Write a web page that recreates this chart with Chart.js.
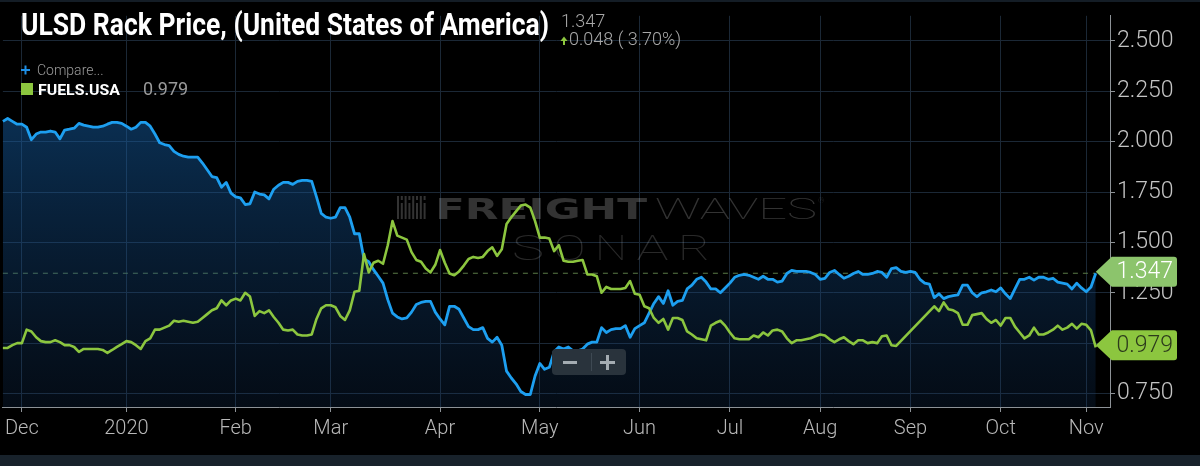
<!DOCTYPE html>
<html>
<head>
<meta charset="utf-8">
<title>ULSD Rack Price</title>
<style>
  html, body { margin: 0; padding: 0; background: #000; }
  #wrap { width: 1200px; height: 466px; position: relative; }
</style>
<script src="https://cdn.jsdelivr.net/npm/chart.js@4.4.0/dist/chart.umd.min.js"></script>
</head>
<body>
<div id="wrap"><canvas id="fuelChart" width="1200" height="466"></canvas></div>
<script>
// trading days per month shown on the axis (first and last month are partial)
const monthNames = ['Nov', 'Dec', '2020', 'Feb', 'Mar', 'Apr', 'May', 'Jun', 'Jul', 'Aug', 'Sep', 'Oct', 'Nov'];
const pointsPerMonth = [4, 22, 23, 20, 23, 21, 21, 19, 19, 19, 19, 18, 3];
const yTicks = [0.75, 1.0, 1.25, 1.5, 1.75, 2.0, 2.25, 2.5];

// ULSD Rack Price (blue)
const ulsdRack = [
  2.101, 2.115, 2.101, 2.087, 2.087, 2.072, 2.010, 2.038, 2.048, 2.048,
  2.053, 2.048, 2.014, 2.058, 2.062, 2.067, 2.091, 2.082, 2.077, 2.072,
  2.072, 2.077, 2.087, 2.096, 2.096, 2.091, 2.077, 2.062, 2.072, 2.096,
  2.096, 2.077, 2.038, 1.995, 1.986, 1.981, 1.952, 1.937, 1.928, 1.923,
  1.923, 1.923, 1.894, 1.861, 1.827, 1.822, 1.774, 1.798, 1.745, 1.726,
  1.721, 1.688, 1.692, 1.750, 1.740, 1.736, 1.716, 1.764, 1.784, 1.798,
  1.798, 1.788, 1.803, 1.808, 1.808, 1.803, 1.726, 1.644, 1.625, 1.620,
  1.625, 1.673, 1.673, 1.625, 1.543, 1.543, 1.418, 1.404, 1.365, 1.332,
  1.298, 1.216, 1.149, 1.130, 1.120, 1.125, 1.154, 1.192, 1.202, 1.207,
  1.207, 1.154, 1.120, 1.091, 1.183, 1.183, 1.168, 1.125, 1.082, 1.067,
  1.067, 1.077, 1.024, 1.005, 1.029, 0.990, 0.861, 0.827, 0.798, 0.760,
  0.745, 0.745, 0.837, 0.899, 0.870, 0.880, 0.957, 0.981, 0.971, 0.981,
  0.962, 0.962, 0.971, 0.995, 1.005, 1.005, 1.077, 1.053, 1.067, 1.072,
  1.072, 1.087, 1.029, 1.072, 1.087, 1.101, 1.149, 1.197, 1.231, 1.197,
  1.260, 1.188, 1.207, 1.212, 1.269, 1.288, 1.317, 1.327, 1.303, 1.269,
  1.269, 1.250, 1.274, 1.298, 1.327, 1.337, 1.341, 1.337, 1.327, 1.317,
  1.332, 1.317, 1.317, 1.303, 1.308, 1.346, 1.361, 1.356, 1.356, 1.356,
  1.351, 1.341, 1.317, 1.322, 1.351, 1.361, 1.341, 1.322, 1.332, 1.346,
  1.356, 1.341, 1.341, 1.346, 1.356, 1.351, 1.327, 1.370, 1.375, 1.356,
  1.351, 1.356, 1.351, 1.317, 1.298, 1.293, 1.226, 1.245, 1.221, 1.231,
  1.236, 1.240, 1.288, 1.288, 1.250, 1.231, 1.250, 1.255, 1.264, 1.255,
  1.274, 1.245, 1.221, 1.269, 1.317, 1.317, 1.327, 1.313, 1.327, 1.327,
  1.317, 1.322, 1.303, 1.298, 1.293, 1.269, 1.298, 1.274, 1.255, 1.279,
  1.347
];

// FUELS.USA compare series (green), gap in late August
const fuelsUsa = [
  0.976, 0.976, 0.990, 1.000, 1.000, 1.067, 1.058, 1.029, 1.010, 1.005,
  1.005, 1.014, 1.005, 0.990, 0.990, 0.981, 0.957, 0.971, 0.971, 0.971,
  0.971, 0.966, 0.952, 0.966, 0.981, 0.995, 1.010, 1.005, 0.990, 0.971,
  1.010, 1.024, 1.067, 1.067, 1.077, 1.087, 1.111, 1.106, 1.111, 1.106,
  1.101, 1.106, 1.125, 1.144, 1.163, 1.173, 1.212, 1.188, 1.212, 1.221,
  1.212, 1.250, 1.231, 1.135, 1.159, 1.149, 1.163, 1.130, 1.101, 1.067,
  1.063, 1.067, 1.043, 1.038, 1.038, 1.043, 1.120, 1.173, 1.188, 1.188,
  1.178, 1.135, 1.115, 1.163, 1.255, 1.260, 1.442, 1.351, 1.399, 1.409,
  1.394, 1.486, 1.606, 1.534, 1.524, 1.514, 1.452, 1.413, 1.404, 1.370,
  1.351, 1.389, 1.462, 1.399, 1.346, 1.337, 1.356, 1.385, 1.418, 1.428,
  1.423, 1.428, 1.457, 1.476, 1.433, 1.466, 1.591, 1.625, 1.654, 1.683,
  1.688, 1.673, 1.606, 1.524, 1.524, 1.519, 1.457, 1.486, 1.409, 1.404,
  1.404, 1.409, 1.413, 1.341, 1.341, 1.332, 1.250, 1.279, 1.269, 1.269,
  1.269, 1.274, 1.308, 1.245, 1.240, 1.183, 1.173, 1.125, 1.101, 1.120,
  1.067, 1.125, 1.125, 1.115, 1.058, 1.043, 1.024, 1.019, 1.014, 1.087,
  1.101, 1.111, 1.087, 1.053, 1.024, 1.019, 1.019, 1.019, 1.038, 1.029,
  1.053, 1.038, 1.063, 1.067, 1.058, 1.024, 1.000, 1.014, 1.014, 1.019,
  1.024, 1.034, 1.043, 1.038, 1.019, 1.005, 1.019, 1.029, 1.010, 0.995,
  1.014, 1.014, 1.000, 1.005, 1.000, 1.034, 1.038, 0.990, 0.986, null,
  null, null, null, null, null, null, 1.183, 1.159, 1.202, 1.168,
  1.163, 1.149, 1.091, 1.091, 1.139, 1.144, 1.149, 1.120, 1.101, 1.115,
  1.087, 1.125, 1.125, 1.082, 1.053, 1.024, 1.038, 1.077, 1.043, 1.043,
  1.053, 1.067, 1.087, 1.067, 1.077, 1.096, 1.072, 1.096, 1.091, 1.063,
  0.979
];

// build category labels and month-start tick positions
const labels = [];
const monthStarts = [];
monthNames.forEach((name, m) => {
  if (m > 0) monthStarts.push(labels.length);
  for (let k = 0; k < pointsPerMonth[m]; k++) labels.push(name + ' ' + (k + 1));
});
// empty room on the right of the last point
for (let k = 0; k < 3; k++) labels.push('');

const BLUE = '#1d9ff0';
const GREEN = '#8cc63f';

function fitText(ctx, text, x, y, font, color, width) {
  ctx.save();
  ctx.font = font;
  ctx.fillStyle = color;
  const w = ctx.measureText(text).width;
  ctx.translate(x, y);
  ctx.scale(width / w, 1);
  ctx.fillText(text, 0, 0);
  ctx.restore();
}

const backdrop = {
  id: 'backdrop',
  beforeDraw(chart) {
    const ctx = chart.ctx;
    ctx.save();
    ctx.fillStyle = '#000';
    ctx.fillRect(0, 0, chart.width, chart.height);
    ctx.fillStyle = '#141d26';
    ctx.fillRect(0, 0, chart.width, 2);
    ctx.fillStyle = '#18222b';
    ctx.fillRect(0, 455, chart.width, chart.height - 455);
    ctx.restore();
  }
};

const watermark = {
  id: 'watermark',
  beforeDatasetsDraw(chart) {
    const ctx = chart.ctx;
    const col = 'rgba(255,255,255,0.2)';
    ctx.save();
    ctx.textBaseline = 'alphabetic';
    // logo bars
    ctx.fillStyle = col;
    for (let i = 0; i < 8; i++) {
      const bx = 397 + i * 3.8;
      if (i % 2 === 0) {
        ctx.fillRect(bx, 196, 2, 23);
      } else {
        ctx.fillRect(bx, 196, 2, 4);
        ctx.fillRect(bx, 203, 2, 16);
      }
    }
    fitText(ctx, 'FREIGHT', 435, 219, '900 29px "DejaVu Sans"', col, 212);
    fitText(ctx, 'WAVES', 655, 219, '100 29px Roboto', col, 162);
    ctx.font = '100 8px Roboto';
    ctx.fillText('®', 818, 203);
    const sonar = 'SONAR';
    for (let i = 0; i < sonar.length; i++) {
      fitText(ctx, sonar[i], 512 + i * 41.5, 260, '100 35px Roboto', 'rgba(255,255,255,0.16)', 32);
    }
    // dashed line at the last ULSD value
    const y = chart.scales.y.getPixelForValue(ulsdRack[ulsdRack.length - 1]);
    const xEnd = chart.scales.x.getPixelForValue(ulsdRack.length - 1);
    ctx.strokeStyle = '#5a7a48';
    ctx.lineWidth = 1;
    ctx.setLineDash([5, 5]);
    ctx.beginPath();
    ctx.moveTo(chart.chartArea.left, y);
    ctx.lineTo(xEnd, y);
    ctx.stroke();
    ctx.restore();
  }
};

function drawTag(ctx, tipX, yc, text, fill, textColor) {
  const h = 30, r = 3, right = 1177, bodyX = tipX + 16;
  ctx.beginPath();
  ctx.moveTo(tipX, yc);
  ctx.lineTo(bodyX, yc - h / 2);
  ctx.lineTo(right - r, yc - h / 2);
  ctx.quadraticCurveTo(right, yc - h / 2, right, yc - h / 2 + r);
  ctx.lineTo(right, yc + h / 2 - r);
  ctx.quadraticCurveTo(right, yc + h / 2, right - r, yc + h / 2);
  ctx.lineTo(bodyX, yc + h / 2);
  ctx.closePath();
  ctx.fillStyle = fill;
  ctx.fill();
  ctx.fillStyle = textColor;
  ctx.font = '300 23px Roboto';
  ctx.textAlign = 'right';
  ctx.textBaseline = 'middle';
  ctx.fillText(text, 1173, yc + 1);
}

const overlay = {
  id: 'overlay',
  afterDraw(chart) {
    const ctx = chart.ctx;
    ctx.save();
    ctx.textBaseline = 'alphabetic';
    ctx.textAlign = 'left';
    // header
    fitText(ctx, 'ULSD Rack Price, (United States of America)', 21, 35, 'bold 31px Roboto', '#ffffff', 528);
    ctx.font = '300 18px Roboto';
    ctx.fillStyle = '#a8a8a8';
    ctx.fillText('1.347', 561, 27);
    ctx.fillText('0.048 ( 3.70%)', 569, 45);
    ctx.fillStyle = GREEN;
    ctx.beginPath();
    ctx.moveTo(564, 36.5);
    ctx.lineTo(560.5, 41);
    ctx.lineTo(567.5, 41);
    ctx.closePath();
    ctx.fill();
    ctx.fillRect(563, 40, 2, 5);
    // legend
    ctx.fillStyle = '#1e8fe6';
    ctx.fillRect(21, 69, 9, 2);
    ctx.fillRect(24.5, 65.5, 2, 9);
    ctx.font = '300 14px Roboto';
    ctx.fillStyle = '#9a9a9a';
    ctx.fillText('Compare...', 37, 75);
    ctx.fillStyle = GREEN;
    ctx.fillRect(21, 83, 12, 12);
    fitText(ctx, 'FUELS.USA', 38, 95, 'bold 15px Roboto', '#ffffff', 82);
    ctx.font = '18px Roboto';
    ctx.fillStyle = '#9a9a9a';
    ctx.fillText('0.979', 143, 95);
    // zoom buttons
    ctx.fillStyle = '#29333c';
    ctx.beginPath();
    ctx.roundRect(552, 349, 74, 26, 4);
    ctx.fill();
    ctx.fillStyle = '#3e4953';
    ctx.fillRect(591, 353, 1, 18);
    ctx.fillStyle = '#a4acb2';
    ctx.fillRect(563, 361, 14, 3);
    ctx.fillRect(600, 361, 15, 3);
    ctx.fillRect(606, 355, 3, 15);
    // value tags on the right axis
    const ys = chart.scales.y;
    const tipX = chart.scales.x.getPixelForValue(ulsdRack.length - 1);
    drawTag(ctx, tipX, ys.getPixelForValue(ulsdRack[ulsdRack.length - 1]) - 1.5, '1.347', '#8cc46c', '#ffffff');
    drawTag(ctx, tipX, ys.getPixelForValue(fuelsUsa[fuelsUsa.length - 1]) - 2, '0.979', GREEN, '#2c3a1c');
    ctx.restore();
  }
};

const ctx = document.getElementById('fuelChart').getContext('2d');

const fuelChart = new Chart(ctx, {
  type: 'line',
  data: {
    labels: labels,
    datasets: [{
      label: 'FUELS.USA',
      data: fuelsUsa,
      borderColor: GREEN,
      borderWidth: 2.6,
      borderJoinStyle: 'round',
      pointRadius: 0,
      fill: false,
      spanGaps: true,
      order: 0
    }, {
      label: 'ULSD Rack Price',
      data: ulsdRack,
      borderColor: BLUE,
      borderWidth: 2.8,
      borderJoinStyle: 'round',
      pointRadius: 0,
      fill: 'start',
      order: 1,
      backgroundColor: (context) => {
        const area = context.chart.chartArea;
        if (!area) return 'rgba(0,0,0,0)';
        const g = context.chart.ctx.createLinearGradient(0, area.top, 0, area.bottom);
        g.addColorStop(0, 'rgba(22,110,190,0.58)');
        g.addColorStop(1, 'rgba(20,60,110,0.2)');
        return g;
      }
    }]
  },
  options: {
    responsive: false,
    animation: false,
    devicePixelRatio: 1,
    layout: { padding: { top: 2, left: 1, right: 0, bottom: 0 } },
    plugins: {
      legend: { display: false },
      tooltip: { enabled: false }
    },
    scales: {
      x: {
        type: 'category',
        offset: false,
        afterBuildTicks: (scale) => {
          scale.ticks = monthStarts.map(i => ({ value: i }));
        },
        afterFit: (scale) => { scale.height = 59; },
        grid: {
          color: '#1b2836',
          lineWidth: 1,
          drawTicks: true,
          tickLength: 5,
          tickColor: '#8d9297'
        },
        border: { display: true, color: '#8d9297', width: 1 },
        ticks: {
          autoSkip: false,
          maxRotation: 0,
          padding: 5,
          color: '#b8b8b8',
          font: { family: 'Roboto', size: 20, weight: '300' },
          callback: function (value) {
            return this.getLabelForValue(value).split(' ')[0];
          }
        }
      },
      y: {
        position: 'right',
        min: 0.683,
        max: 2.625,
        afterBuildTicks: (scale) => {
          scale.ticks = yTicks.map(v => ({ value: v }));
        },
        afterFit: (scale) => { scale.width = 90; },
        grid: {
          color: '#1b2836',
          lineWidth: 1,
          drawTicks: true,
          tickLength: 5,
          tickColor: '#8d9297'
        },
        border: { display: true, color: '#8d9297', width: 1 },
        ticks: {
          padding: 2,
          color: '#c4c4c4',
          font: { family: 'Roboto', size: 23, weight: '300' },
          callback: (value) => Number(value).toFixed(3)
        }
      }
    }
  },
  plugins: [backdrop, watermark, overlay]
});
</script>
</body>
</html>
